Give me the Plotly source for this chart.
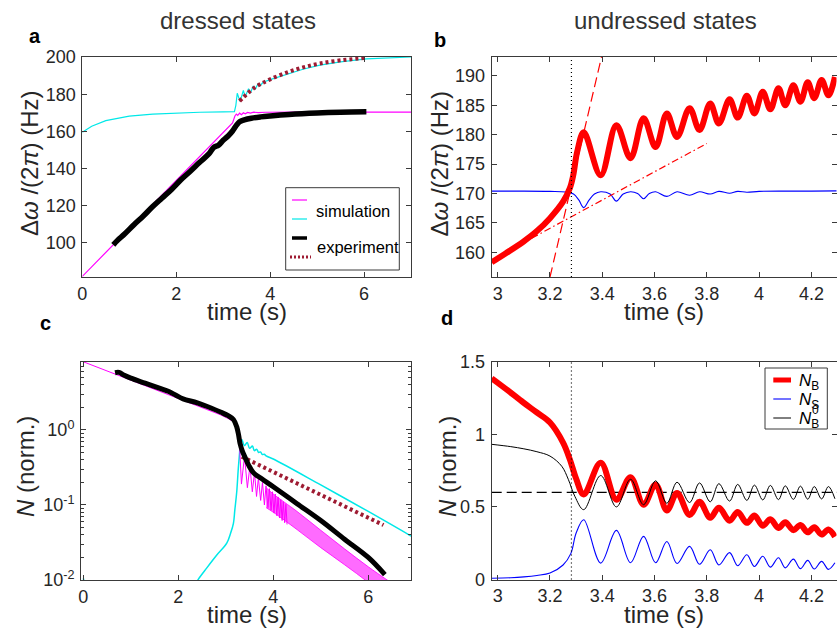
import plotly.graph_objects as go

W, H = 837, 629
FONT = "Liberation Sans, Arial, Helvetica, sans-serif"
INK = "#262626"

MAGENTA = "rgb(255,0,255)"
CYAN = "rgb(0,232,232)"
MAROON = "#9e1b32"
RED = "#ff0000"
BLUE = "#0000ff"

# ---------------- panel a: dressed-state frequencies ----------------
a_mag_t = [0, 0.66, 1.0, 1.5, 2.0, 2.5, 2.93, 3.1, 3.2, 3.25, 3.28, 3.31, 3.35, 3.39, 3.43,
           3.47, 3.52, 3.58, 3.65, 3.75, 3.9, 4.5, 5.5, 7.0]
a_mag_f = [82.0, 99.0, 107.8, 120.7, 133.6, 146.5, 157.6, 162.0, 164.6, 168.3, 169.3, 168.6, 169.8,
           169.0, 170.0, 169.5, 170.2, 169.8, 170.3, 170.1, 170.3, 170.4, 170.4, 170.4]

a_cyan_t = [0, 0.2, 0.5, 1.0, 1.5, 2.0, 2.5, 3.0, 3.24, 3.27, 3.30, 3.36, 3.43, 3.47, 3.54, 3.58,
            3.64, 3.68, 3.74, 3.78, 3.85, 4.0, 4.35, 4.7, 5.06, 5.5, 6.05, 6.5, 7.0]
a_cyan_f = [159.5, 162.8, 165.8, 168.2, 169.3, 169.9, 170.3, 170.5, 170.6, 174.0, 180.5, 176.0,
            182.0, 178.6, 183.0, 180.6, 184.4, 182.6, 185.5, 184.4, 186.4, 187.8, 190.6, 193.4,
            195.6, 197.4, 199.0, 199.6, 200.0]

a_exp_t = [0.66, 0.75, 0.9, 1.1, 1.3, 1.5, 1.7, 1.9, 2.1, 2.3, 2.5, 2.7, 2.8, 2.9, 3.0, 3.1, 3.2,
           3.28, 3.35, 3.45, 3.6, 3.8, 4.0, 4.4, 5.0, 5.5, 6.05]
a_exp_f = [99.0, 101.4, 104.8, 109.8, 114.5, 119.6, 124.2, 128.8, 134.0, 138.6, 143.4, 148.0,
           151.4, 152.6, 155.2, 157.4, 160.2, 163.2, 165.2, 166.2, 167.1, 167.8, 168.3, 169.1,
           169.9, 170.3, 170.5]

a_exp2_t = [3.35, 3.5, 3.64, 3.8, 4.0, 4.35, 4.7, 5.06, 5.5, 6.0]
a_exp2_f = [176.3, 180.0, 183.0, 185.5, 188.0, 191.6, 194.4, 196.5, 198.2, 199.4]

# ---------------- shared oscillation extrema times (3.3 s - 4.3 s) ----------------
ext_t = [3.329, 3.394, 3.454, 3.508, 3.558, 3.604, 3.647, 3.686, 3.734, 3.772, 3.813, 3.846,
         3.887, 3.918, 3.953, 3.982, 4.014, 4.043, 4.074, 4.100, 4.131, 4.158, 4.186, 4.211,
         4.239, 4.265, 4.29]

# ---------------- panel b: undressed-state frequencies ----------------
b_red_pre_t = [2.977, 3.03, 3.098, 3.15, 3.2, 3.25, 3.276, 3.289, 3.304]
b_red_pre_f = [158.3, 159.8, 161.8, 163.6, 165.8, 168.6, 170.9, 173.1, 177.1]
b_red_ext_f = [180.4, 173.1, 181.6, 176.0, 182.8, 177.9, 183.6, 179.6, 184.5, 180.8, 185.3, 181.9,
               186.0, 182.9, 186.6, 183.6, 187.3, 184.3, 187.9, 185.0, 188.4, 185.6, 188.9, 186.2,
               189.3, 186.7, 189.8]

b_blue_t = [2.977, 3.1, 3.2, 3.26, 3.29, 3.31, 3.329, 3.35, 3.37, 3.394, 3.43, 3.454, 3.48, 3.508,
            3.535, 3.558, 3.58, 3.604, 3.647, 3.686, 3.734, 3.772, 3.813, 3.846, 3.887, 3.918,
            3.953, 4.0, 4.1, 4.2, 4.3]
b_blue_f = [170.4, 170.4, 170.35, 170.25, 169.9, 168.9, 167.6, 168.9, 169.9, 170.3, 169.9, 168.7,
            169.9, 170.3, 170.0, 169.1, 170.0, 170.3, 169.5, 170.3, 169.7, 170.3, 169.9, 170.35,
            170.05, 170.35, 170.2, 170.35, 170.4, 170.4, 170.45]

b_fit1_t = [3.2, 3.397]
b_fit1_f = [155.8, 193.2]
b_fit2_t = [3.13, 3.8]
b_fit2_f = [162.4, 178.5]

t_cross = 3.282

# ---------------- panel c: atom numbers, dressed states (log) ----------------
c_mag_t = [0, 0.5, 1.0, 1.5, 2.0, 2.5, 2.88, 3.05, 3.16, 3.22, 3.26, 3.29, 3.31] + ext_t
c_mag_n = [8.1, 6.1, 4.65, 3.5, 2.64, 2.0, 1.6, 1.42, 1.29, 1.12, 0.9, 0.6, 0.35,
           0.19, 0.45, 0.17, 0.33, 0.15, 0.27, 0.13, 0.23, 0.115, 0.20, 0.10, 0.18, 0.092, 0.165,
           0.085, 0.15, 0.078, 0.14, 0.072, 0.128, 0.067, 0.118, 0.062, 0.11, 0.058, 0.102, 0.055]
c_band_t = [3.85, 4.0, 4.5, 5.0, 5.5, 6.0, 6.45]
c_band_hi = [0.17, 0.14, 0.082, 0.046, 0.026, 0.015, 0.0095]
c_band_lo = [0.092, 0.08, 0.047, 0.027, 0.016, 0.0093, 0.0055]

c_cyan0_t = [0, 0.04, 0.1]
c_cyan0_n = [0.0105, 0.008, 0.0005]
c_cyan_t = [2.3, 2.42, 2.6, 2.81, 3.02, 3.1, 3.16, 3.19, 3.23, 3.26, 3.29, 3.31,
            3.34, 3.39, 3.45, 3.5, 3.56, 3.6, 3.65, 3.69, 3.73, 3.77, 3.81, 3.85, 4.0, 5.0, 6.0, 6.9]
c_cyan_n = [0.0075, 0.0102, 0.0145, 0.0215, 0.031, 0.042, 0.057, 0.086,
            0.15, 0.29, 0.5, 0.7, 0.74, 0.62, 0.68, 0.57, 0.61, 0.53, 0.555, 0.5, 0.51, 0.47,
            0.475, 0.45, 0.41, 0.185, 0.082, 0.0386]

c_exp_t = [0.667, 0.75, 0.85, 1.0, 1.3, 1.6, 1.8, 1.95, 2.1, 2.4, 2.7, 2.9, 3.05, 3.16, 3.23,
           3.27, 3.30, 3.35, 3.40, 3.48, 3.58, 3.75, 4.0, 4.5, 5.0, 5.5, 6.0, 6.35]
c_exp_n = [5.8, 5.85, 5.4, 4.9, 4.2, 3.6, 3.25, 2.9, 2.6, 2.3, 1.95, 1.72, 1.55, 1.38, 1.1, 0.85,
           0.66, 0.52, 0.44, 0.34, 0.27, 0.225, 0.175, 0.104, 0.062, 0.035, 0.02, 0.0118]

c_exp2_t = [3.335, 4.0, 5.0, 6.32]
c_exp2_n = [0.44, 0.276, 0.137, 0.054]

# ---------------- panel d: atom numbers, undressed states ----------------
d_nb_pre_t = [2.977, 3.04, 3.098, 3.15, 3.2, 3.25, 3.276, 3.301]
d_nb_pre_n = [1.385, 1.30, 1.219, 1.15, 1.081, 0.943, 0.827, 0.689]
d_nb_ext_n = [0.585, 0.804, 0.55, 0.705, 0.515, 0.655, 0.475, 0.595, 0.445, 0.535, 0.425, 0.495,
              0.405, 0.465, 0.39, 0.44, 0.37, 0.415, 0.355, 0.395, 0.34, 0.375, 0.325, 0.36,
              0.31, 0.345, 0.295]

d_ns_pre_t = [2.977, 3.05, 3.1, 3.15, 3.2, 3.25, 3.28, 3.30]
d_ns_pre_n = [0.009, 0.012, 0.018, 0.028, 0.045, 0.10, 0.18, 0.32]
d_ns_ext_n = [0.412, 0.113, 0.338, 0.115, 0.297, 0.115, 0.262, 0.11, 0.228, 0.105, 0.205, 0.10,
              0.185, 0.095, 0.17, 0.09, 0.16, 0.085, 0.15, 0.08, 0.14, 0.075, 0.132, 0.072,
              0.125, 0.07, 0.115]

d_nb0_pre_t = [2.977, 3.05, 3.1, 3.15, 3.2, 3.245, 3.27, 3.295]
d_nb0_pre_n = [0.931, 0.915, 0.90, 0.88, 0.85, 0.78, 0.69, 0.573]
d_nb0_ext_n = [0.481, 0.716, 0.50, 0.69, 0.515, 0.68, 0.525, 0.67, 0.53, 0.665, 0.535, 0.66,
               0.54, 0.655, 0.545, 0.65, 0.548, 0.648, 0.55, 0.645, 0.552, 0.643, 0.553, 0.64,
               0.555, 0.64, 0.556]

d_ref_t = [2.977, 4.3]
d_ref_n = [0.6, 0.6]

fig = go.Figure()


def line(x, y, ax, color, width, dash=None, shape="spline", **kw):
    fig.add_trace(go.Scatter(
        x=x, y=y, xaxis="x" + ax, yaxis="y" + ax, mode="lines",
        line=dict(color=color, width=width, dash=dash, shape=shape, smoothing=1.0),
        showlegend=False, hoverinfo="skip", **kw))


# panel a
line(a_cyan_t, a_cyan_f, "", CYAN, 1.2, shape="linear")
line(a_mag_t, a_mag_f, "", MAGENTA, 1.2, shape="linear")
line(a_exp_t, a_exp_f, "", "black", 5.5)
line(a_exp2_t, a_exp2_f, "", MAROON, 4, dash="3px,3px")

# panel b
line(b_blue_t, b_blue_f, "2", BLUE, 1.1)
line(b_red_pre_t + ext_t, b_red_pre_f + b_red_ext_f, "2", RED, 6)
line(b_fit1_t, b_fit1_f, "2", RED, 1.2, dash="10px,5px", shape="linear")
line(b_fit2_t, b_fit2_f, "2", RED, 1.2, dash="7px,3px,1.5px,3px", shape="linear")

# panel c
line(c_cyan0_t, c_cyan0_n, "3", CYAN, 1.5, shape="linear")
line(c_cyan_t, c_cyan_n, "3", CYAN, 1.5)
line(c_band_t, c_band_hi, "3", MAGENTA, 0.8)
line(c_band_t, c_band_lo, "3", MAGENTA, 0.8, fill="tonexty", fillcolor="rgba(255,0,255,0.58)")
line(c_mag_t, c_mag_n, "3", MAGENTA, 1.0, shape="linear")
line(c_exp2_t, c_exp2_n, "3", MAROON, 4, dash="3px,3px", shape="linear")
line(c_exp_t, c_exp_n, "3", "black", 5)

# panel d
line(d_ref_t, d_ref_n, "4", "black", 1.2, dash="10px,5px", shape="linear")
line(d_ns_pre_t + ext_t, d_ns_pre_n + d_ns_ext_n, "4", BLUE, 1.1)
line(d_nb_pre_t + ext_t, d_nb_pre_n + d_nb_ext_n, "4", RED, 6)
line(d_nb0_pre_t + ext_t, d_nb0_pre_n + d_nb0_ext_n, "4", "black", 1.0)


def px(x):
    return x / W


def py(y):
    return 1 - y / H


axis_common = dict(
    showline=True, linecolor="#3a3a3a", linewidth=1, mirror="ticks", ticks="inside",
    ticklen=5, tickwidth=1, tickcolor="#3a3a3a", showgrid=False, zeroline=False,
    tickfont=dict(family=FONT, size=18, color=INK), automargin=False,
)
xcommon = dict(axis_common, ticklabelstandoff=0)
ycommon = dict(axis_common, ticklabelstandoff=2)

dom_ax_left = [px(82.3), px(411)]
dom_ax_right = [px(491.7), px(836.5)]
dom_top = [py(277), py(57)]
dom_bot = [py(580), py(361.7)]

fig.update_layout(
    width=W, height=H, margin=dict(l=0, r=0, t=0, b=0, pad=0, autoexpand=False),
    paper_bgcolor="white", plot_bgcolor="white", showlegend=False,
    font=dict(family=FONT, color=INK),
    xaxis=dict(xcommon, domain=dom_ax_left, range=[0, 7], tickvals=[0, 2, 4, 6],
               anchor="y"),
    yaxis=dict(ycommon, domain=dom_top, range=[81.7, 200],
               tickvals=[100, 120, 140, 160, 180, 200], anchor="x"),
    xaxis2=dict(xcommon, domain=dom_ax_right, range=[2.977, 4.296],
                tickvals=[3, 3.2, 3.4, 3.6, 3.8, 4, 4.2],
                ticktext=["3", "3.2", "3.4", "3.6", "3.8", "4", "4.2"], anchor="y2"),
    yaxis2=dict(ycommon, domain=dom_top, range=[155.8, 193.2],
                tickvals=[160, 165, 170, 175, 180, 185, 190], anchor="x2"),
    xaxis3=dict(xcommon, domain=[px(81), px(411)], range=[-0.05, 6.9],
                tickvals=[0, 2, 4, 6], anchor="y3"),
    yaxis3=dict(ycommon, domain=dom_bot, type="log", range=[-2, 0.91],
                tickvals=[0.01, 0.1, 1],
                ticktext=["10<sup>-2</sup>", "10<sup>-1</sup>", "10<sup>0</sup>"],
                minor=dict(ticks="inside", ticklen=3, tickcolor="#3a3a3a",
                           tickvals=[0.02, 0.03, 0.04, 0.05, 0.06, 0.07, 0.08, 0.09,
                                     0.2, 0.3, 0.4, 0.5, 0.6, 0.7, 0.8, 0.9,
                                     2, 3, 4, 5, 6, 7, 8]),
                anchor="x3"),
    xaxis4=dict(xcommon, domain=dom_ax_right, range=[2.977, 4.296],
                tickvals=[3, 3.2, 3.4, 3.6, 3.8, 4, 4.2],
                ticktext=["3", "3.2", "3.4", "3.6", "3.8", "4", "4.2"], anchor="y4"),
    yaxis4=dict(ycommon, domain=[py(579.5), py(361.7)], range=[0, 1.5],
                tickvals=[0, 0.5, 1, 1.5], ticktext=["0", "0.5", "1", "1.5"], anchor="x4"),
)

# vertical markers at the crossing time
for ax in ("2", "4"):
    fig.add_shape(type="line", xref="x" + ax, yref="y" + ax + " domain",
                  x0=t_cross, x1=t_cross, y0=0, y1=1,
                  line=dict(color="black", width=1.2, dash="1px,3px"))

ann = []


def text(x, y, s, size=24, color=INK, angle=0, xanchor="center", bold=False, **kw):
    ann.append(dict(x=px(x), y=py(y), xref="paper", yref="paper", text=s, showarrow=False,
                    font=dict(family=FONT, size=size, color=color,
                              weight="bold" if bold else "normal"),
                    textangle=angle, xanchor=xanchor, yanchor="middle", **kw))


text(238, 21, "dressed states", size=24, color="#333333")
text(665, 21, "undressed states", size=24, color="#333333")
text(34.5, 36, "a", size=20, color="black", bold=True)
text(440.5, 40, "b", size=20, color="black", bold=True)
text(45.5, 323, "c", size=20, color="black", bold=True)
text(446.5, 318, "d", size=20, color="black", bold=True)

ylab_f = "Δ<i>ω</i> /(2<i>π</i>) (Hz)"
ylab_n = "<i>N</i> (norm.)"
text(246.5, 311, "time (s)")
text(664, 311, "time (s)")
text(246.5, 614, "time (s)")
text(664, 614, "time (s)")
text(29, 164, ylab_f, angle=-90)
text(438.5, 164, ylab_f, angle=-90)
text(25, 467, ylab_n, angle=-90)
text(447, 467, ylab_n, angle=-90)

# legend for panel a
shapes = []


def seg(x0, x1, y, color, width, dash=None):
    shapes.append(dict(type="line", xref="paper", yref="paper", x0=px(x0), x1=px(x1),
                       y0=py(y), y1=py(y), line=dict(color=color, width=width, dash=dash)))


shapes.append(dict(type="rect", xref="paper", yref="paper", x0=px(285.7), x1=px(399.3),
                   y0=py(270), y1=py(187.7), line=dict(color="#3a3a3a", width=1),
                   fillcolor="white"))
seg(292, 307, 200, MAGENTA, 1.2)
seg(292, 307, 219, CYAN, 1.2)
seg(292, 307, 238, "black", 3.5)
seg(290, 311, 257, MAROON, 3, dash="2px,2px")
text(313.5, 211, "simulation", size=16.5, color="black", xanchor="left")
text(314.5, 247, "experiment", size=16.5, color="black", xanchor="left")

# legend for panel d
shapes.append(dict(type="rect", xref="paper", yref="paper", x0=px(765), x1=px(827.3),
                   y0=py(429), y1=py(368), line=dict(color="#3a3a3a", width=1),
                   fillcolor="white"))
seg(773.3, 791, 380, RED, 5)
seg(773.3, 791, 399, BLUE, 1.1)
seg(773.3, 791, 418, "black", 1.0)
text(797, 382, "<i>N</i><sub>B</sub>", size=17, color="black", xanchor="left")
text(797, 401, "<i>N</i><sub>S</sub>", size=17, color="black", xanchor="left")
text(797, 420, "<i>N</i><sub>B</sub>", size=17, color="black", xanchor="left")
text(809.5, 410, "0", size=12, color="black", xanchor="left")

fig.update_layout(annotations=ann)
for s in shapes:
    fig.add_shape(**s)

fig.write_html("out.html")
